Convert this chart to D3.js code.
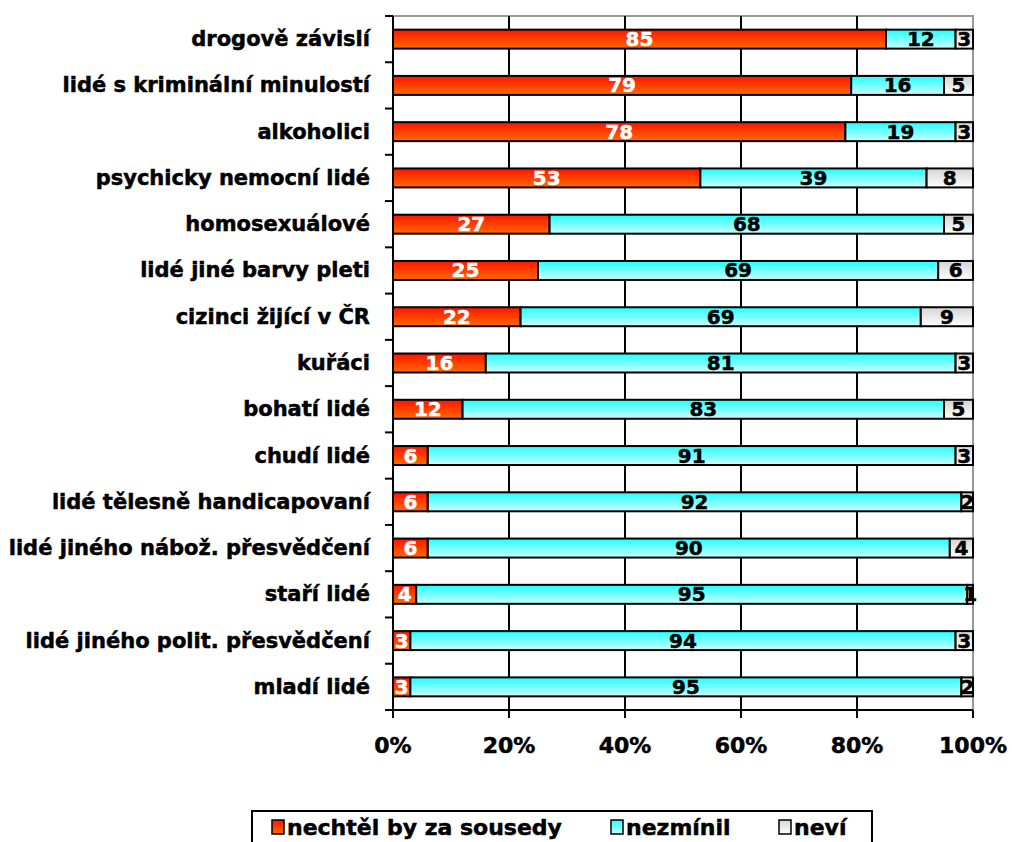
<!doctype html>
<html>
<head>
<meta charset="UTF-8">
<title>Sousedé</title>
<script src="https://d3js.org/d3.v7.min.js"></script>
<style>
  body { margin: 0; background: #fff; }
  text { font-family: "DejaVu Sans", Verdana, sans-serif; font-weight: bold; stroke-width: 0.5px; }
</style>
</head>
<body>
<script>
var categories = ["drogově závislí", "lidé s kriminální minulostí", "alkoholici", "psychicky nemocní lidé",
  "homosexuálové", "lidé jiné barvy pleti", "cizinci žijící v ČR", "kuřáci", "bohatí lidé", "chudí lidé",
  "lidé tělesně handicapovaní", "lidé jiného nábož. přesvědčení", "staří lidé",
  "lidé jiného polit. přesvědčení", "mladí lidé"];
var nechtel = [85, 79, 78, 53, 27, 25, 22, 16, 12, 6, 6, 6, 4, 3, 3];
var nezminil = [12, 16, 19, 39, 68, 69, 69, 81, 83, 91, 92, 90, 95, 94, 95];
var nevi = [3, 5, 3, 8, 5, 6, 9, 3, 5, 3, 2, 4, 1, 3, 2];
var seriesNames = ["nechtěl by za sousedy", "nezmínil", "neví"];
var ticks = [0, 20, 40, 60, 80, 100];

var w = 1012, h = 842;
var pLeft = 393, pRight = 973, pTop = 16, pBottom = 710;

var svg = d3.select("body").append("svg").attr("width", w).attr("height", h);

// gradienty
var defs = svg.append("defs");
var grads = [["g0", "#ff1400", "#ff6a00"], ["g1", "#22ffff", "#ccffff"], ["g2", "#d4d4d4", "#ffffff"]];
grads.forEach(function (g) {
  var lg = defs.append("linearGradient").attr("id", g[0]).attr("x1", 0).attr("y1", 0).attr("x2", 0).attr("y2", 1);
  lg.append("stop").attr("offset", "0%").attr("stop-color", g[1]);
  lg.append("stop").attr("offset", "100%").attr("stop-color", g[2]);
});

var x = d3.scaleLinear().domain([0, 100]).range([pLeft, pRight]);
var y = d3.scaleBand().domain(categories).range([pTop, pBottom]).paddingInner(0.59).paddingOuter(0.295);
var yb = d3.scaleBand().domain(categories).range([pTop, pBottom]);

// ramecek (sedy nahore a vpravo)
svg.append("path")
  .attr("d", "M" + pLeft + "," + pTop + "H" + pRight + "V" + pBottom)
  .attr("fill", "none").attr("stroke", "#999").attr("stroke-width", 2);

// mrizka
svg.selectAll("line.grid").data(ticks.slice(1, 5)).enter().append("line")
  .attr("x1", function (d) { return x(d); }).attr("x2", function (d) { return x(d); })
  .attr("y1", pTop).attr("y2", pBottom)
  .attr("stroke", "#000").attr("stroke-width", 2);

// skladani
var rows = categories.map(function (c, i) { return [nechtel[i], nezminil[i], nevi[i]]; });
var segs = [];
rows.forEach(function (r, i) {
  var acc = 0;
  r.forEach(function (v, j) {
    segs.push({ cat: categories[i], s: j, x0: acc, x1: acc + v, v: v });
    acc += v;
  });
});

svg.selectAll("rect.bar").data(segs).enter().append("rect")
  .attr("x", function (d) { return x(d.x0); })
  .attr("y", function (d) { return y(d.cat); })
  .attr("width", function (d) { return x(d.x1) - x(d.x0); })
  .attr("height", y.bandwidth())
  .attr("fill", function (d) { return "url(#g" + d.s + ")"; })
  .attr("stroke", "#000").attr("stroke-width", 2);

svg.selectAll("text.val").data(segs).enter().append("text")
  .attr("x", function (d) { return (x(d.x0) + x(d.x1)) / 2; })
  .attr("y", function (d) { return y(d.cat) + y.bandwidth() / 2 + 7; })
  .attr("text-anchor", "middle")
  .attr("font-size", 20)
  .attr("fill", function (d) { return d.s === 0 ? "#fff" : "#000"; })
  .attr("stroke", function (d) { return d.s === 0 ? "#fff" : "#000"; })
  .text(function (d) { return d.v; });

// osa y
var ya = svg.append("g");
ya.append("line").attr("x1", pLeft).attr("x2", pLeft).attr("y1", pTop).attr("y2", pBottom)
  .attr("stroke", "#000").attr("stroke-width", 2);
var bounds = categories.map(function (c) { return yb(c); }).concat([pBottom]);
ya.selectAll("line.t").data(bounds).enter().append("line")
  .attr("x1", pLeft - 8).attr("x2", pLeft).attr("y1", function (d) { return d; }).attr("y2", function (d) { return d; })
  .attr("stroke", "#000").attr("stroke-width", 2);
ya.selectAll("text").data(categories).enter().append("text")
  .attr("x", 370)
  .attr("y", function (d) { return y(d) + y.bandwidth() / 2 + 7; })
  .attr("text-anchor", "end").attr("font-size", 21).attr("stroke", "#000")
  .text(function (d) { return d; });

// osa x
var xa = svg.append("g");
xa.append("line").attr("x1", pLeft).attr("x2", pRight).attr("y1", pBottom).attr("y2", pBottom)
  .attr("stroke", "#000").attr("stroke-width", 2);
xa.selectAll("line.t").data(ticks).enter().append("line")
  .attr("x1", function (d) { return x(d); }).attr("x2", function (d) { return x(d); })
  .attr("y1", pBottom).attr("y2", pBottom + 8)
  .attr("stroke", "#000").attr("stroke-width", 2);
xa.selectAll("text").data(ticks).enter().append("text")
  .attr("x", function (d) { return x(d); }).attr("y", 753)
  .attr("text-anchor", "middle").attr("font-size", 22).attr("stroke", "#000")
  .text(function (d) { return d + "%"; });

// legenda
var lg = svg.append("g");
lg.append("rect").attr("x", 252).attr("y", 811).attr("width", 620).attr("height", 40)
  .attr("fill", "#fff").attr("stroke", "#000").attr("stroke-width", 2);
var lx = [272, 611, 779];
seriesNames.forEach(function (n, i) {
  lg.append("rect").attr("x", lx[i]).attr("y", 820).attr("width", 12).attr("height", 14)
    .attr("fill", "url(#g" + i + ")").attr("stroke", "#000").attr("stroke-width", 1.5);
  lg.append("text").attr("x", lx[i] + 15).attr("y", 835).attr("font-size", 22).attr("stroke", "#000").text(n);
});
</script>
</body>
</html>
